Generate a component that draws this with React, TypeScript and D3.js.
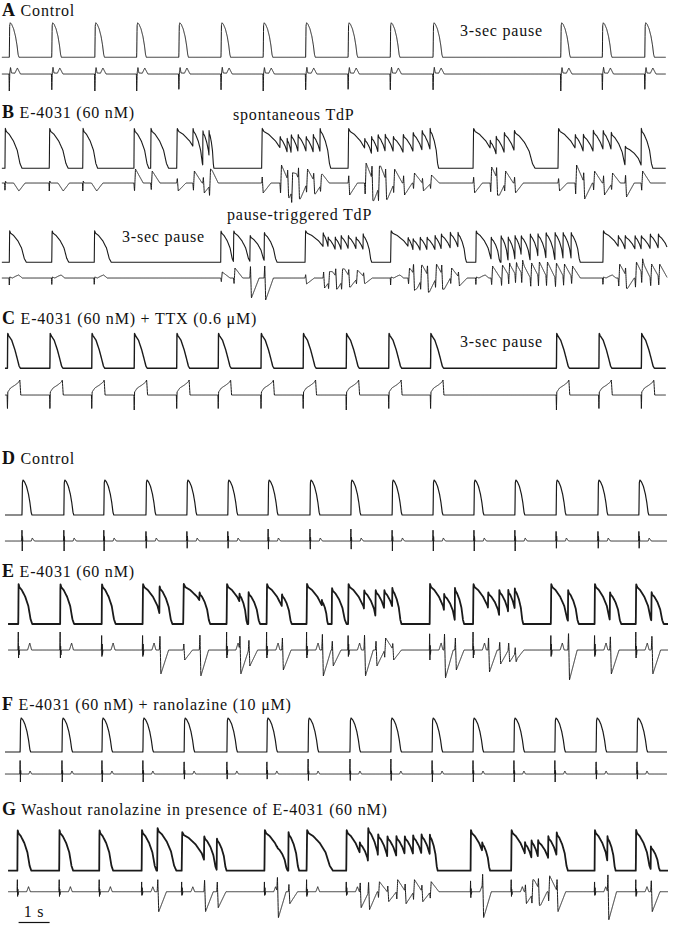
import React from 'react';
import * as d3 from 'd3';

// beat = [onset (s), duration (s), relative AP height, ECG amplitude of a TdP complex]
type Beat = [number, number, number, number?];
type Pt = [number, number];

// ---- action-potential shapes (fraction of duration, fraction of amplitude)
const apRound: Pt[] = [[0, 0], [0.04, 0.92], [0.1, 1], [0.25, 0.95], [0.45, 0.82], [0.65, 0.6], [0.8, 0.35], [0.92, 0.08], [1, 0]];
const apLong: Pt[] = [[0, 0], [0.02, 1], [0.08, 0.92], [0.25, 0.85], [0.5, 0.68], [0.72, 0.45], [0.88, 0.12], [1, 0]];
const apTtx: Pt[] = [[0, 0], [0.02, 1], [0.1, 0.93], [0.33, 0.8], [0.58, 0.52], [0.75, 0.28], [0.9, 0.06], [1, 0]];

// ---- ECG complexes (s after onset, mV)
const ecgA: Pt[] = [[-0.01, 0], [0, -0.85], [0.015, 0.05], [0.04, 0.33], [0.07, 0.05], [0.18, 0.04], [0.26, 0.3], [0.36, 0]];
const ecgB1: Pt[] = [[-0.01, 0], [0, -0.4], [0.015, 0.1], [0.05, 0], [0.28, 0], [0.45, -0.4], [0.65, 0]];
const ecgB2: Pt[] = [[-0.01, 0], [0, -0.35], [0.015, 0.05], [0.1, 0], [0.22, 0.1], [0.3, 0.15], [0.42, 0]];
const ecgC: Pt[] = [[-0.01, 0], [0, -0.75], [0.012, 0.15], [0.1, 0.35], [0.25, 0.5], [0.37, 0.65], [0.4, 0.75], [0.43, 0]];
const ecgD: Pt[] = [[-0.01, 0], [0, 0.6], [0.008, -0.5], [0.016, 0.25], [0.026, 0], [0.3, 0], [0.33, 0.15], [0.4, 0]];
const ecgE: Pt[] = [[-0.01, 0], [0, 0.9], [0.008, -0.5], [0.016, 0.3], [0.024, -0.25], [0.04, 0], [0.3, 0], [0.37, 0.35], [0.43, 0]];
const ecgF: Pt[] = [[-0.01, 0], [0, 0.75], [0.008, -0.4], [0.016, 0.2], [0.026, 0], [0.28, 0], [0.32, 0.15], [0.37, 0]];
const ecgG: Pt[] = [[-0.01, 0], [0, 0.6], [0.008, -0.3], [0.016, 0.2], [0.024, -0.15], [0.04, 0], [0.3, 0], [0.36, 0.25], [0.42, 0]];
const ecgTdp: Pt[] = [[0, 0], [0.02, 0.6], [0.05, -1], [0.15, -0.6], [0.3, 0]];

// ---- beats
const beatsA: Beat[] = [[0.30, 0.31, 1], [1.67, 0.31, 1], [3.06, 0.31, 1], [4.41, 0.31, 1], [5.77, 0.31, 1], [7.13, 0.31, 1], [8.49, 0.31, 1], [9.86, 0.31, 1], [11.23, 0.31, 1], [12.59, 0.31, 1], [13.97, 0.31, 1], [18.09, 0.31, 1], [19.43, 0.31, 1], [20.80, 0.31, 1]];

const beatsB1: Beat[] = [
  [0.16, 0.55, 1], [1.59, 0.61, 1], [2.67, 0.48, 1],
  [4.32, 0.48, 1, -0.7], [4.86, 0.58, 1, -0.6], [5.70, 0.84, 1, 0.4], [6.22, 0.35, 1, -0.6], [6.54, 0.26, 0.95, 0.5], [6.74, 0.16, 0.95, -0.8],
  [8.44, 0.9, 1, 0.5], [9.03, 0.35, 0.8, -0.9], [9.26, 0.2, 0.75, 0.8], [9.39, 0.33, 0.85, -0.9], [9.61, 0.39, 0.85, 0.9], [9.87, 0.35, 0.8, -0.7], [10.10, 0.33, 0.85, 0.6], [10.32, 0.35, 1, -0.5],
  [11.23, 0.8, 1, 0.6], [11.76, 0.33, 0.75, -1.0], [11.98, 0.32, 0.8, 1.0], [12.19, 0.35, 0.85, -1.0], [12.42, 0.39, 0.85, 0.9], [12.68, 0.48, 0.8, -0.7], [13.0, 0.48, 0.85, 0.6], [13.32, 0.44, 0.9, -0.5], [13.61, 0.39, 0.95, 0.4], [13.87, 0.28, 1, -0.4],
  [15.26, 0.83, 1, 0.5], [15.81, 0.29, 0.7, -0.8], [16.0, 0.39, 0.8, 0.8], [16.26, 0.48, 0.9, -0.6], [16.58, 0.68, 0.95, 0.5],
  [18.0, 0.83, 1, 0.4], [18.55, 0.39, 0.85, -0.9], [18.81, 0.48, 0.85, 0.8], [19.13, 0.48, 0.95, -0.6], [19.45, 0.39, 0.95, 0.6], [19.71, 0.5, 0.9, -0.5], [20.16, 0.6, 0.55, 0.7], [20.68, 0.38, 1, -0.6],
];

const beatsB2: Beat[] = [
  [0.30, 0.55, 1], [1.67, 0.55, 1], [3.04, 0.55, 1],
  [7.12, 0.42, 1, -0.3], [7.53, 0.55, 1, -0.5], [8.06, 0.5, 0.85, 1.0], [8.52, 0.42, 0.95, 1.1],
  [9.84, 0.87, 1, 0.3], [10.42, 0.25, 0.95, 0.5], [10.58, 0.35, 0.8, -0.5], [10.81, 0.29, 0.8, 0.6], [11.0, 0.35, 0.85, -0.6], [11.23, 0.38, 0.85, 0.5], [11.48, 0.35, 0.8, -0.4], [11.71, 0.28, 0.9, 0.3],
  [12.6, 0.85, 1], [13.16, 0.24, 0.8, -0.5], [13.32, 0.35, 0.75, 0.8], [13.55, 0.33, 0.8, -0.7], [13.77, 0.39, 0.8, 0.8], [14.03, 0.3, 0.85, -0.7], [14.23, 0.44, 0.9, 0.7], [14.52, 0.38, 0.95, -0.5], [14.77, 0.28, 0.95, 0.4],
  [15.35, 0.55, 1], [15.84, 0.3, 0.8, -0.6], [16.16, 0.25, 0.85, -0.65], [16.39, 0.25, 0.8, -0.7], [16.61, 0.25, 0.85, -0.7], [16.81, 0.32, 0.85, -0.75], [17.1, 0.3, 0.9, -0.75], [17.35, 0.3, 0.9, -0.8], [17.61, 0.32, 0.95, -0.8], [17.9, 0.3, 0.95, -0.75], [18.16, 0.3, 0.95, -0.7], [18.42, 0.3, 0.95, -0.6],
  [19.45, 0.74, 1], [19.94, 0.33, 0.85, -0.7], [20.16, 0.48, 0.85, 0.6], [20.48, 0.3, 0.85, -0.8], [20.68, 0.44, 0.85, -0.8], [20.97, 0.39, 0.9, -0.7], [21.23, 0.45, 0.9, -0.7],
];

const beatsC: Beat[] = [[0.24, 0.42, 1], [1.61, 0.42, 1], [2.96, 0.42, 1], [4.33, 0.42, 1], [5.70, 0.42, 1], [7.04, 0.42, 1], [8.42, 0.42, 1], [9.78, 0.42, 1], [11.17, 0.42, 1], [12.54, 0.42, 1], [13.89, 0.42, 1], [17.95, 0.42, 1], [19.32, 0.42, 1], [20.69, 0.42, 1]];

const beatsD: Beat[] = [[0.71, 0.32, 1], [2.06, 0.32, 1], [3.35, 0.32, 1], [4.71, 0.32, 1], [6.03, 0.32, 1], [7.35, 0.32, 1], [8.65, 0.32, 1], [10.0, 0.32, 1], [11.32, 0.32, 1], [12.65, 0.32, 1], [13.97, 0.32, 1], [15.29, 0.32, 1], [16.61, 0.32, 1], [17.94, 0.32, 1], [19.29, 0.32, 1], [20.61, 0.32, 1]];

const beatsE: Beat[] = [
  [0.59, 0.45, 1], [1.94, 0.45, 1], [3.28, 0.45, 1],
  [4.60, 0.67, 1], [5.14, 0.42, 0.95, 1.2],
  [5.91, 0.9, 1, 0.5], [6.43, 0.35, 0.8, 1.3],
  [7.31, 0.68, 1], [7.72, 0.26, 0.77, 1.2], [8.01, 0.38, 0.8, 0.8],
  [8.6, 0.68, 1], [9.09, 0.32, 0.75, 1.0],
  [9.89, 0.7, 1], [10.38, 0.2, 0.6, 1.3], [10.7, 0.48, 0.9, 0.8],
  [11.23, 0.68, 1], [11.74, 0.45, 0.85, 1.3], [12.11, 0.4, 0.85, 0.8], [12.39, 0.4, 0.85, -0.6], [12.65, 0.3, 0.9, 0.5],
  [13.86, 0.6, 1], [14.32, 0.4, 0.75, 1.4], [14.67, 0.3, 0.9, 1.0],
  [15.26, 0.65, 1], [15.74, 0.45, 0.8, 1.1], [16.1, 0.38, 0.85, 0.7], [16.39, 0.3, 0.85, 0.6], [16.6, 0.28, 0.9, 0.5],
  [17.77, 0.6, 1], [18.32, 0.35, 0.85, 1.5],
  [19.18, 0.55, 1], [19.67, 0.37, 0.8, 1.2],
  [20.51, 0.55, 1], [21.01, 0.4, 0.8, 1.2],
];

const beatsF: Beat[] = [[0.65, 0.34, 1], [2.0, 0.34, 1], [3.29, 0.34, 1], [4.61, 0.34, 1], [5.94, 0.34, 1], [7.32, 0.34, 1], [8.61, 0.34, 1], [9.94, 0.34, 1], [11.29, 0.34, 1], [12.61, 0.34, 1], [13.94, 0.34, 1], [15.26, 0.34, 1], [16.58, 0.34, 1], [17.9, 0.34, 1], [19.23, 0.34, 1], [20.55, 0.34, 1]];

const beatsG: Beat[] = [
  [0.56, 0.45, 1], [1.91, 0.45, 1], [3.2, 0.45, 1],
  [4.57, 0.48, 1], [5.07, 0.62, 1.05, 1.0],
  [5.86, 0.9, 0.95], [6.58, 0.42, 0.85, 1.0], [6.99, 0.32, 0.8, 0.8],
  [8.53, 0.68, 1], [8.93, 0.35, 0.6, 1.3], [9.3, 0.35, 0.95, 0.6],
  [9.89, 0.85, 1],
  [11.17, 0.6, 1], [11.6, 0.35, 0.7, 0.8], [11.87, 0.42, 1.05, 0.9], [12.19, 0.4, 0.9, -0.5], [12.49, 0.4, 0.85, 0.5], [12.78, 0.4, 0.85, -0.6], [13.05, 0.4, 0.85, 0.6], [13.32, 0.4, 0.87, -0.6], [13.59, 0.38, 0.9, 0.5], [13.86, 0.26, 0.9, -0.5],
  [15.18, 0.55, 1], [15.55, 0.26, 0.7, 1.3],
  [16.49, 0.6, 1], [16.93, 0.3, 0.7, 0.6], [17.14, 0.3, 0.75, -0.7], [17.35, 0.45, 0.75, 0.8], [17.68, 0.38, 0.85, -0.8], [17.95, 0.37, 0.95, 1.0],
  [19.18, 0.5, 1], [19.59, 0.27, 0.85, 1.4],
  [20.51, 0.5, 1], [20.99, 0.3, 0.6, 1.0],
];

const panelLetters = ['A', 'B', 'C', 'D', 'E', 'F', 'G'];
const panelTitles = [
  'Control',
  'E-4031 (60 nM)',
  'E-4031 (60 nM) + TTX (0.6 μM)',
  'Control',
  'E-4031 (60 nM)',
  'E-4031 (60 nM) + ranolazine (10 μM)',
  'Washout ranolazine in presence of E-4031 (60 nM)',
];
const notes = ['3-sec pause', 'spontaneous TdP', 'pause-triggered TdP', '3-sec pause', '3-sec pause'];

const W = 678;
const H = 925;
const x = d3.scaleLinear().domain([0, 21.5]).range([0, 666.5]);

// layout of the eight trace pairs
const traces = [
  { beats: beatsA, ap: apRound, ecg: ecgA, apBase: 57.3, apTop: 22.7, ecgBase: 74, t: [0.06, 21.48], apW: 1 },
  { beats: beatsB1, ap: apLong, ecg: ecgB1, apBase: 168.3, apTop: 128.3, ecgBase: 183, t: [0.06, 21.48], apW: 1.1 },
  { beats: beatsB2, ap: apLong, ecg: ecgB2, apBase: 262.3, apTop: 230.7, ecgBase: 278, t: [0.06, 21.52], apW: 1.1 },
  { beats: beatsC, ap: apTtx, ecg: ecgC, apBase: 368.3, apTop: 333.3, ecgBase: 395, t: [0.16, 21.48], apW: 1.4 },
  { beats: beatsD, ap: apRound, ecg: ecgD, apBase: 515, apTop: 480, ecgBase: 541, t: [0.16, 21.52], apW: 1.2 },
  { beats: beatsE, ap: apLong, ecg: ecgE, apBase: 624, apTop: 584, ecgBase: 650, t: [0.26, 21.55], apW: 1.8 },
  { beats: beatsF, ap: apRound, ecg: ecgF, apBase: 752, apTop: 718, ecgBase: 774, t: [0.16, 21.52], apW: 1.2 },
  { beats: beatsG, ap: apLong, ecg: ecgG, apBase: 870.7, apTop: 830, ecgBase: 891.7, t: [0.26, 21.55], apW: 1.8 },
];

const interp = (pts: Pt[], s: number) => {
  if (s <= pts[0][0] || s >= pts[pts.length - 1][0]) return 0;
  let i = 1;
  while (pts[i][0] < s) i++;
  const [x0, y0] = pts[i - 1];
  const [x1, y1] = pts[i];
  return y0 + ((y1 - y0) * (s - x0)) / (x1 - x0);
};

function apSeries(beats: Beat[], tpl: Pt[], t0: number, t1: number, step: number): Pt[] {
  const rise = tpl[1][0];
  const prev: number[] = [];
  const level = (k: number, t: number) => {
    const [on, dur, h] = beats[k];
    const s = (t - on) / dur;
    if (s >= 1 || s < 0) return 0;
    if (s < rise) {
      const p = prev[k];
      return p + (tpl[1][1] * h - p) * (s / rise);
    }
    return interp(tpl, s) * h;
  };
  beats.forEach((_, k) => {
    prev[k] = k > 0 ? level(k - 1, beats[k][0]) : 0;
  });
  const out: Pt[] = [];
  let k = -1;
  for (let t = t0; t <= t1; t += step) {
    while (k + 1 < beats.length && beats[k + 1][0] <= t) k++;
    out.push([t, k < 0 ? 0 : level(k, t)]);
  }
  return out;
}

function ecgSeries(beats: Beat[], tpl: Pt[], t0: number, t1: number, step: number): Pt[] {
  const out: Pt[] = [];
  for (let t = t0; t <= t1; t += step) {
    let v = 0;
    for (const b of beats) {
      const tau = t - b[0];
      if (tau < -0.02 || tau > 0.8) continue;
      v += b[3] !== undefined ? interp(ecgTdp, tau) * b[3] : interp(tpl, tau);
    }
    out.push([t, v]);
  }
  return out;
}

const font = "'Liberation Serif', 'DejaVu Serif', 'Liberation Sans', Arial, sans-serif";
const txt = { fontFamily: font, letterSpacing: '0.8px' };

const App: React.FC = () => {
  const titleY = [16, 118, 324, 464, 577, 710, 815];
  const notePos: Pt[] = [[460, 36], [233, 120], [227, 220], [122, 242], [460, 347]];

  return (
    <svg width={W} height={H} style={{ position: 'absolute', left: 0, top: 0, background: '#fff' }}>
      <rect width={W} height={H} fill="#fff" />
      {traces.map((tr, i) => {
        const yAp = d3.scaleLinear().domain([0, 1]).range([tr.apBase, tr.apTop]);
        const yEcg = d3.scaleLinear().domain([-1, 1]).range([tr.ecgBase + 20, tr.ecgBase - 20]);
        const apLine = d3.line<Pt>().x(d => x(d[0])).y(d => yAp(d[1]));
        const ecgLine = d3.line<Pt>().x(d => x(d[0])).y(d => yEcg(d[1]));
        const ap = apSeries(tr.beats, tr.ap, tr.t[0], tr.t[1], 0.004);
        const ecg = ecgSeries(tr.beats, tr.ecg, tr.t[0], tr.t[1], 0.003);
        return (
          <g key={i} fill="none" stroke="#1a1a1a" strokeLinejoin="round">
            <path d={apLine(ap) ?? ''} strokeWidth={tr.apW} />
            <path d={ecgLine(ecg) ?? ''} strokeWidth={1} />
          </g>
        );
      })}
      {panelLetters.map((l, i) => (
        <text key={l} x={2} y={titleY[i]} style={txt} fill="#111">
          <tspan fontWeight="bold" fontSize={18}>{l}</tspan>
          <tspan fontSize={16}>{' ' + panelTitles[i]}</tspan>
        </text>
      ))}
      {notes.map((n, i) => (
        <text key={i} x={notePos[i][0]} y={notePos[i][1]} style={txt} fontSize={16} fill="#111">
          {n}
        </text>
      ))}
      <line x1={x(0.6)} x2={x(1.6)} y1={922.5} y2={922.5} stroke="#111" strokeWidth={1.2} />
      <text x={x(1.1)} y={917} textAnchor="middle" style={txt} fontSize={16} fill="#111">1 s</text>
    </svg>
  );
};

export default App;
